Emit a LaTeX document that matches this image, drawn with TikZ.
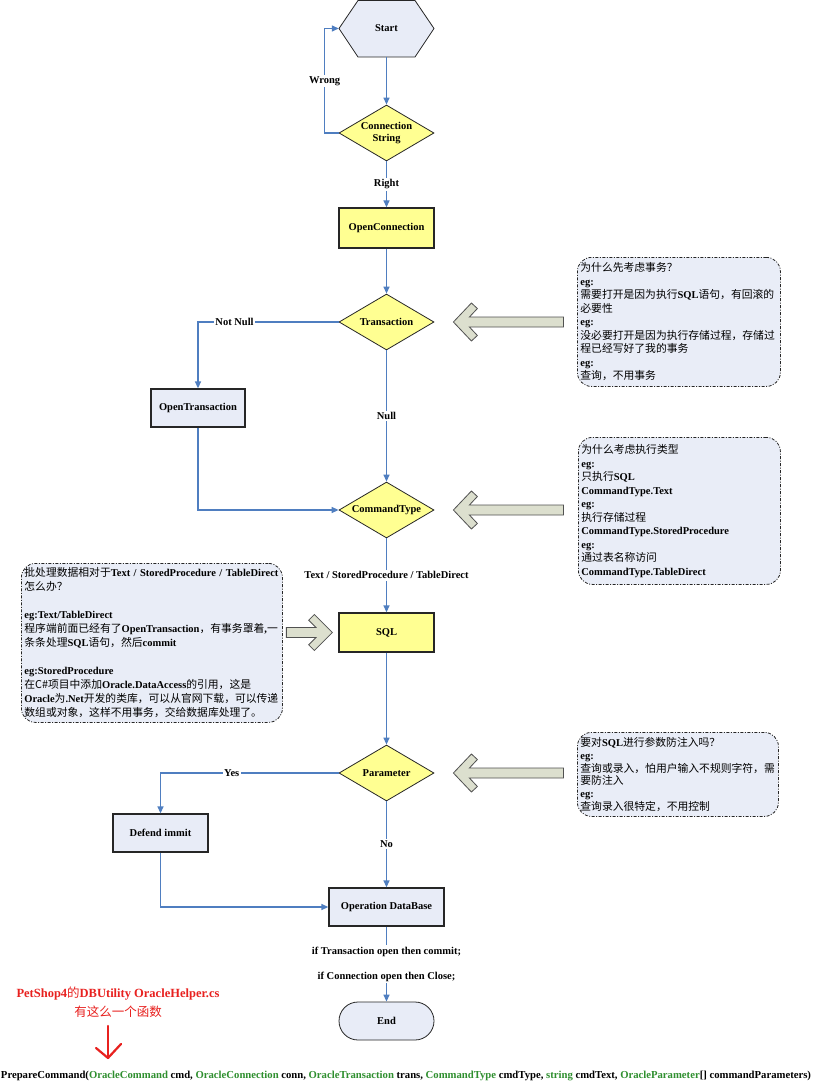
\documentclass[tikz,border=0pt]{standalone}
\usepackage{fontspec}
\setmainfont{Liberation Serif}
\newfontfamily\cjk{Noto Sans CJK SC}
\usetikzlibrary{shapes.geometric,arrows.meta,calc}
\newcommand{\zh}[1]{{\cjk\mdseries\fontsize{10.8}{13.5}\selectfont #1}}
\definecolor{flow}{HTML}{4F7EC0}
\definecolor{boxfill}{HTML}{E8ECF7}
\definecolor{yel}{HTML}{FFFF92}
\definecolor{bord}{HTML}{262626}
\definecolor{barrowfill}{HTML}{DCDFCE}
\definecolor{notefill}{HTML}{E9EDF7}
\definecolor{codegreen}{HTML}{2F8F2F}
\definecolor{redtxt}{HTML}{E8211F}
\tikzset{
  lblfont/.style={font=\fontsize{10.5}{12}\selectfont\bfseries},
  proc/.style={rectangle, draw=bord, line width=1.3pt, fill=boxfill, minimum width=95, minimum height=38, inner sep=0, lblfont},
  yproc/.style={proc, fill=yel},
  decision/.style={diamond, aspect=1.7, draw=bord, line width=0.8pt, fill=yel, minimum width=95, minimum height=56, inner sep=0, align=center, lblfont},
  hexdraw/.style={draw=bord, line width=0.8pt, fill=boxfill},
  endshape/.style={rectangle, rounded corners=19, draw=bord, line width=0.8pt, fill=boxfill, minimum width=95, minimum height=38, inner sep=0, lblfont},
  flowline/.style={draw=flow, line width=1.3pt, -{Triangle[length=7pt,width=6pt]}},
  lbl/.style={fill=white, inner sep=1.5pt, lblfont},
  barrow/.style={draw=bord!80, line width=0.8pt, fill=barrowfill, line join=miter},
  note/.style={rectangle, rounded corners=14, draw=bord, line width=0.8pt, fill=notefill,
     dash pattern=on 3pt off 1.5pt on 1pt off 1.5pt, anchor=north west, align=left, inner sep=3pt,
     font=\fontsize{10.5}{13.5}\selectfont\bfseries},
  redarrow/.style={draw=redtxt, line width=2.2pt, line cap=round, line join=round},
}
\begin{document}
\begin{tikzpicture}[x=1pt,y=-1pt]
\useasboundingbox (0,0) rectangle (812,1083);
\fill[white] (0,0) rectangle (812,1083);

% Start hexagon
\coordinate (startc) at (386.5,28.5);
\draw[hexdraw] ($(startc)+(-47.5,0)$) -- ++(19,-28) -- ++(57,0) -- ++(19,28) -- ++(-19,28.5) -- ++(-57,0) -- cycle;
\node[minimum width=95, minimum height=57, inner sep=0, lblfont] (start) at (startc) {Start};

\node[decision] (cs) at (386.5,133) {Connection\\String};
\node[yproc, minimum height=40] (oc) at (386.5,228) {OpenConnection};
\node[decision] (trans) at (386.5,322) {Transaction};
\node[proc, minimum width=94] (otx) at (198,408) {OpenTransaction};
\node[decision] (ctype) at (386.5,510) {CommandType};
\node[yproc, minimum height=39] (sql) at (386.5,632.5) {SQL};
\node[decision] (param) at (386.5,773) {Parameter};
\node[proc] (defend) at (160.5,833) {Defend immit};
\node[proc, minimum width=115] (opdb) at (386.5,907) {Operation DataBase};
\node[endshape] (end) at (386.5,1021) {End};

% connectors
\draw[flowline] (start.south) -- (cs.north);
\draw[flowline] (cs.west) -- ++(-14,0) |- node[lbl, pos=0.25] {Wrong} (start.west);
\draw[flowline] (cs.south) -- node[lbl] {Right} (oc.north);
\draw[flowline] (oc.south) -- (trans.north);
\draw[flowline] (trans.west) -| node[lbl, pos=0.37] {Not Null} (otx.north);
\draw[flowline] (trans.south) -- node[lbl] {Null} (ctype.north);
\draw[flowline] (otx.south) |- (ctype.west);
\draw[flowline] (ctype.south) -- node[lbl] {Text / StoredProcedure / TableDirect} (sql.north);
\draw[flowline] (sql.south) -- (param.north);
\draw[flowline] (param.west) -| node[lbl, pos=0.3] {Yes} (defend.north);
\draw[flowline] (param.south) -- node[lbl] {No} (opdb.north);
\draw[flowline] (defend.south) |- (opdb.west);
\draw[flowline] (opdb.south) -- node[lbl, align=center, font=\fontsize{10.5}{25}\selectfont\bfseries]
   {if Transaction open then commit;\\if Connection open then Close;} (end.north);

% notes
\node[note, minimum width=203, minimum height=129, text width=197] (n1) at (577,257) {%
\zh{为什么先考虑事务？}\\
eg:\\
\zh{需要打开是因为执行}SQL\zh{语句，有回滚的}\\
\zh{必要性}\\
eg:\\
\zh{没必要打开是因为执行存储过程，存储过}\\
\zh{程已经写好了我的事务}\\
eg:\\
\zh{查询，不用事务}};

\node[note, minimum width=202, minimum height=147, text width=196] (n2) at (578,437) {%
\zh{为什么考虑执行类型}\\
eg:\\
\zh{只执行}SQL\\
CommandType.Text\\
eg:\\
\zh{执行存储过程}\\
CommandType.StoredProcedure\\
eg:\\
\zh{通过表名称访问}\\
CommandType.TableDirect};

\node[note, minimum width=261, minimum height=159, text width=255, font=\fontsize{10.5}{14}\selectfont\bfseries] (n3) at (21,563) {%
\zh{批处理数据相对于}Text / StoredProcedure / TableDirect\\
\zh{怎么办？}\\[14pt]
eg:Text/TableDirect\\
\zh{程序端前面已经有了}OpenTransaction\zh{，有事务罩着},\zh{一}\\
\zh{条条处理}SQL\zh{语句，然后}commit\\[14pt]
eg:StoredProcedure\\
\zh{在C\#项目中添加}Oracle.DataAccess\zh{的引用，这是}\\
Oracle\zh{为}.Net\zh{开发的类库，可以从官网下载，可以传递}\\
\zh{数组或对象，这样不用事务，交给数据库处理了。}};

\node[note, minimum width=201, minimum height=84, text width=195, font=\fontsize{10.5}{12.7}\selectfont\bfseries] (n4) at (577,732) {%
\zh{要对}SQL\zh{进行参数防注入吗？}\\
eg:\\
\zh{查询或录入，怕用户输入不规则字符，需}\\
\zh{要防注入}\\
eg:\\
\zh{查询录入很特定，不用控制}};

% block arrows
\draw[barrow] ($(trans.east)+(19,0)$) -- ++(18,-19) -- ++(6,5.5) -- ++(-8,8.5) -- ++(94,0) -- ++(0,10) -- ++(-94,0) -- ++(8,8.5) -- ++(-6,5.5) -- cycle;
\draw[barrow] ($(ctype.east)+(19,0)$) -- ++(18,-19) -- ++(6,5.5) -- ++(-8,8.5) -- ++(94,0) -- ++(0,10) -- ++(-94,0) -- ++(8,8.5) -- ++(-6,5.5) -- cycle;
\draw[barrow] ($(param.east)+(19,0)$) -- ++(18,-19) -- ++(6,5.5) -- ++(-8,8.5) -- ++(94,0) -- ++(0,10) -- ++(-94,0) -- ++(8,8.5) -- ++(-6,5.5) -- cycle;
\draw[barrow] ($(sql.west)+(-6,0)$) -- ++(-18,-18) -- ++(-5.7,5.7) -- ++(7.3,7.3) -- ++(-29.6,0) -- ++(0,10) -- ++(29.6,0) -- ++(-7.3,7.3) -- ++(5.7,5.7) -- cycle;

% red annotation
\node[text=redtxt, font=\fontsize{12.5}{14}\selectfont\bfseries] (pet) at (118,994) {PetShop4{\cjk\mdseries 的}DBUtility OracleHelper.cs};
\node[text=redtxt, font=\cjk\fontsize{12.5}{14}\selectfont] (pet2) at (118,1012) {有这么一个函数};
\coordinate (ra1) at (108,1026);
\coordinate (ra2) at (108,1058);
\coordinate (ral) at (96,1048);
\coordinate (rar) at (121,1044);
\draw[redarrow] (ra1) -- (ra2);
\draw[redarrow] (ral) -- (ra2) -- (rar);

% signature
\node[font=\fontsize{10.5}{12}\selectfont\bfseries, inner sep=0] (sig) at (406,1076) {\resizebox{810pt}{!}{PrepareCommand(\textcolor{codegreen}{OracleCommand} cmd, \textcolor{codegreen}{OracleConnection} conn, \textcolor{codegreen}{OracleTransaction} trans, \textcolor{codegreen}{CommandType} cmdType, \textcolor{codegreen}{string} cmdText, \textcolor{codegreen}{OracleParameter}[] commandParameters)}};
\end{tikzpicture}
\end{document}
